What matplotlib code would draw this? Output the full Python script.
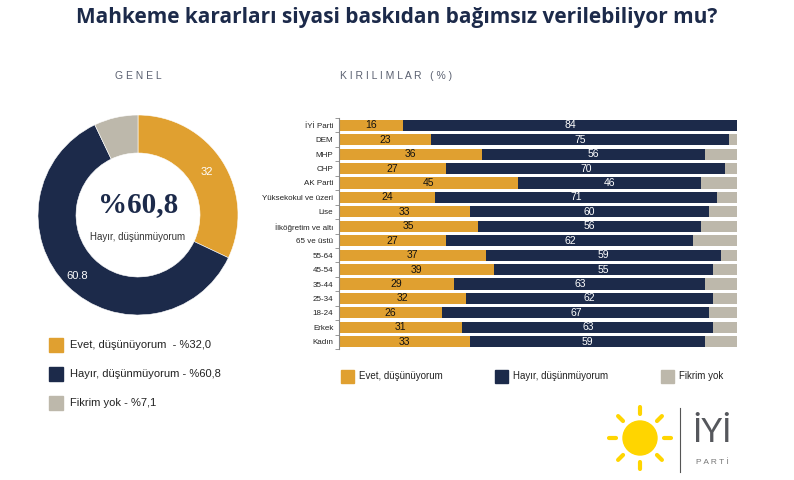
import numpy as np
import matplotlib.pyplot as plt
from matplotlib.patches import Circle, Rectangle

# data
categories = ["İYİ Parti", "DEM", "MHP", "CHP", "AK Parti", "Yüksekokul ve üzeri",
              "Lise", "İlköğretim ve altı", "65 ve üstü", "55-64", "45-54", "35-44",
              "25-34", "18-24", "Erkek", "Kadın"]
evet = [16, 23, 36, 27, 45, 24, 33, 35, 27, 37, 39, 29, 32, 26, 31, 33]
hayir = [84, 75, 56, 70, 46, 71, 60, 56, 62, 59, 55, 63, 62, 67, 63, 59]
fikrim_yok = [100 - e - h for e, h in zip(evet, hayir)]

genel_labels = ["Evet, düşünüyorum", "Hayır, düşünmüyorum", "Fikrim yok"]
genel_values = [32.0, 60.8, 7.1]

ORANGE = "#E0A030"
NAVY = "#1C2A4A"
GRAY = "#BDB8AB"
colors = [ORANGE, NAVY, GRAY]

plt.rcParams['font.family'] = ['Liberation Sans', 'DejaVu Sans']

fig = plt.figure(figsize=(7.94, 4.80), dpi=100)
fig.patch.set_facecolor("white")

fig.text(0.5, 1 - 18 / 480, "Mahkeme kararları siyasi baskıdan bağımsız verilebiliyor mu?",
         ha="center", va="center", fontsize=15, fontweight="bold", color=NAVY,
         family=["Open Sans", "DejaVu Sans"])

fig.text(138 / 794, 1 - 76 / 480, "G E N E L", ha="center", va="center",
         fontsize=7.5, color="#5A6070")
fig.text(340 / 794, 1 - 76 / 480, "K I R I L I M L A R   ( % )", ha="left", va="center",
         fontsize=7.5, color="#5A6070")

# donut
ax_d = fig.add_axes([38 / 794, 1 - 315 / 480, 200 / 794, 200 / 480])
wedges, _ = ax_d.pie(genel_values, colors=colors, startangle=90, counterclock=False,
                     radius=1.0, wedgeprops=dict(width=0.38, edgecolor="white", linewidth=0.4))
ax_d.set_xlim(-1, 1)
ax_d.set_ylim(-1, 1)
ax_d.set_aspect("equal")
ax_d.axis("off")

for v, w in zip(genel_values[:2], wedges[:2]):
    ang = np.deg2rad((w.theta1 + w.theta2) / 2)
    txt = "32" if v == 32.0 else "60.8"
    r = 0.81 if v == 32.0 else 0.86
    ax_d.text(r * np.cos(ang), r * np.sin(ang), txt, ha="center", va="center",
              color="white", fontsize=8)

ax_d.text(0, 0.1, "%60,8", ha="center", va="center", fontsize=21, fontweight="bold",
          color=NAVY, family=["Liberation Serif", "DejaVu Serif"])
ax_d.text(0, -0.22, "Hayır, düşünmüyorum", ha="center", va="center", fontsize=7, color="#333333")

# left legend
leg_texts = ["Evet, düşünüyorum  - %32,0", "Hayır, düşünmüyorum - %60,8", "Fikrim yok - %7,1"]
for i, (t, c) in enumerate(zip(leg_texts, colors)):
    y = 1 - (345 + i * 29) / 480
    fig.patches.append(Rectangle((49 / 794, y - 7 / 480), 14 / 794, 14 / 480,
                                 transform=fig.transFigure, color=c))
    fig.text(70 / 794, y, t, ha="left", va="center", fontsize=8, color="#222222")

# stacked bars
ax = fig.add_axes([339 / 794, 1 - 349 / 480, 398 / 794, 231 / 480])
y = np.arange(len(categories))
h = 0.77
ax.barh(y, evet, height=h, color=ORANGE)
ax.barh(y, hayir, left=evet, height=h, color=NAVY)
ax.barh(y, fikrim_yok, left=np.array(evet) + np.array(hayir), height=h, color=GRAY)
for i in range(len(categories)):
    ax.text(evet[i] / 2, y[i], str(evet[i]), ha="center", va="center", fontsize=7.5, color="#111111")
    ax.text(evet[i] + hayir[i] / 2, y[i], str(hayir[i]), ha="center", va="center",
            fontsize=7.5, color="white")
ax.set_xlim(0, 100)
ax.set_ylim(len(categories) - 0.5, -0.5)
ax.set_yticks(y)
ax.set_yticks(np.arange(len(categories) + 1) - 0.5, minor=True)
ax.set_yticklabels(categories, fontsize=5.8, color="#222222")
ax.tick_params(axis="y", which="major", length=0, pad=4)
ax.tick_params(axis="y", which="minor", length=3, color="#888888", width=0.6)
ax.set_xticks([])
for s in ["top", "right", "bottom"]:
    ax.spines[s].set_visible(False)
ax.spines["left"].set_color("#888888")
ax.spines["left"].set_linewidth(0.8)

# bottom legend
for xpx, t, c in [(341, "Evet, düşünüyorum", ORANGE), (495, "Hayır, düşünmüyorum", NAVY),
                  (661, "Fikrim yok", GRAY)]:
    yy = 1 - 376 / 480
    fig.patches.append(Rectangle((xpx / 794, yy - 6.5 / 480), 13 / 794, 13 / 480,
                                 transform=fig.transFigure, color=c))
    fig.text((xpx + 18) / 794, yy, t, ha="left", va="center", fontsize=7, color="#222222")

# logo
ax_l = fig.add_axes([600 / 794, 0, 194 / 794, 80 / 480])
ax_l.set_xlim(0, 194)
ax_l.set_ylim(0, 80)
ax_l.axis("off")
sun_c = (40, 42)
ax_l.add_patch(Circle(sun_c, 17, color="#FFD500"))
for a in np.arange(0, 360, 45):
    r = np.deg2rad(a)
    ax_l.plot([sun_c[0] + 24 * np.cos(r), sun_c[0] + 31 * np.cos(r)],
              [sun_c[1] + 24 * np.sin(r), sun_c[1] + 31 * np.sin(r)],
              color="#FFD500", lw=3, solid_capstyle="round")
ax_l.plot([80, 80], [8, 72], color="#555555", lw=0.8)
ax_l.text(112, 47, "İYİ", ha="center", va="center", fontsize=24, color="#55575C",
          family=["Lato", "DejaVu Sans"])
ax_l.text(112, 17, "P A R T İ", ha="center", va="center", fontsize=6, color="#777777")

fig.savefig("out.png", dpi=100)
